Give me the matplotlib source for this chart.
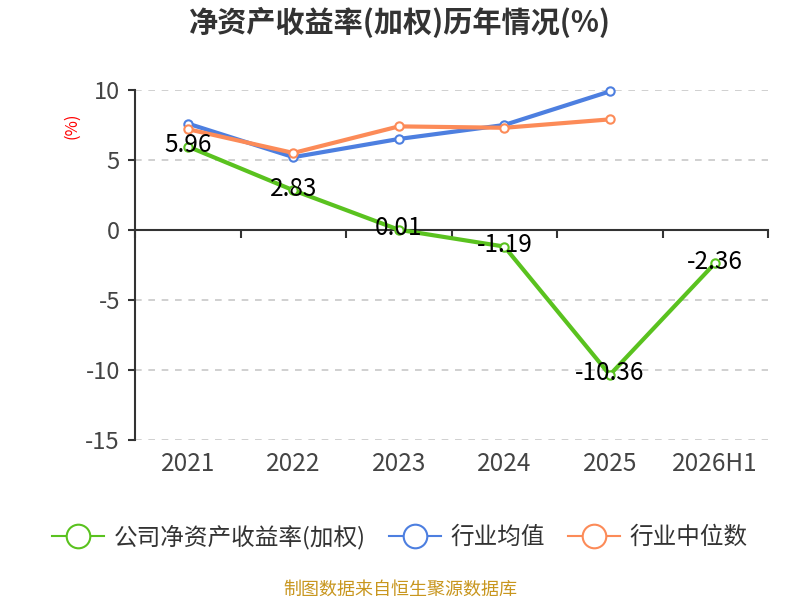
import matplotlib
import matplotlib.pyplot as plt
from matplotlib.lines import Line2D

matplotlib.use('Agg')

plt.rcParams['font.family'] = ['Noto Sans CJK SC', 'DejaVu Sans']

years = ['2021', '2022', '2023', '2024', '2025', '2026H1']
company_roe = [5.96, 2.83, 0.01, -1.19, -10.36, -2.36]
industry_avg = [7.6, 5.2, 6.5, 7.5, 9.9]
industry_median = [7.2, 5.5, 7.4, 7.3, 7.9]
series_names = ['公司净资产收益率(加权)', '行业均值', '行业中位数']

green = '#5ac21f'
blue = '#4d7fe0'
orange = '#fc8b58'

fig = plt.figure(figsize=(8, 6), dpi=100)
ax = fig.add_axes([0.169, 0.267, 0.791, 0.583])

x = list(range(len(years)))
mk = dict(marker='o', markersize=6, markerfacecolor='white', markeredgewidth=1.5, linewidth=3, clip_on=False)
ax.plot(x, company_roe, color=green, zorder=3, **mk)
ax.plot(x[:len(industry_avg)], industry_avg, color=blue, zorder=4, **mk)
ax.plot(x[:len(industry_median)], industry_median, color=orange, zorder=5, **mk)

for xi, v in zip(x, company_roe):
    ax.text(xi, v + 0.1, f'{v:.2f}', ha='center', va='center', fontsize=17.5, color='black', zorder=6)

ax.set_xlim(-0.5, len(years) - 0.5)
ax.set_ylim(-15, 10)
ax.set_yticks([-15, -10, -5, 0, 5, 10])
ax.set_yticklabels(['-15', '-10', '-5', '0', '5', '10'], fontsize=17, color='#444444')
ax.yaxis.grid(True, linestyle=(0, (4, 4)), color='#c8c8c8', linewidth=1.2)
ax.set_axisbelow(True)

# x axis at zero, ticks at category boundaries
ax.spines['bottom'].set_position(('data', 0))
ax.spines['bottom'].set_color('#333333')
ax.spines['bottom'].set_linewidth(1.5)
ax.spines['left'].set_color('#333333')
ax.spines['left'].set_linewidth(1.5)
ax.spines['top'].set_visible(False)
ax.spines['right'].set_visible(False)
ax.set_xticks([i - 0.5 for i in range(len(years) + 1)])
ax.set_xticklabels([])
ax.tick_params(axis='x', length=6, width=1.5, color='#333333', direction='out')
ax.tick_params(axis='y', length=5, width=1.5, color='#333333', pad=6)
for xi, lab in zip(x, years):
    ax.text(xi, -15.8, lab, ha='center', va='top', fontsize=17.5, color='#444444')

fig.text(0.09, 0.79, '(%)', rotation=90, color='red', fontsize=12, ha='center', va='center')
fig.text(0.5, 0.962, '净资产收益率(加权)历年情况(%)', ha='center', va='center', fontsize=21, fontweight='bold', color='#333333')

handles = [Line2D([0], [0], color=c, linewidth=1.5, marker='o', markersize=17, markerfacecolor='white', markeredgewidth=1.5)
           for c in (green, blue, orange)]
fig.legend(handles, series_names, loc='center', bbox_to_anchor=(0.5, 0.105), ncol=3, frameon=False,
           fontsize=17, handlelength=2.2, columnspacing=1.0, handletextpad=0.4, labelcolor='#333333')

fig.text(0.5, 0.017, '制图数据来自恒生聚源数据库', ha='center', va='center', fontsize=13, color='#c8961e')

fig.savefig('out.png', dpi=100)
